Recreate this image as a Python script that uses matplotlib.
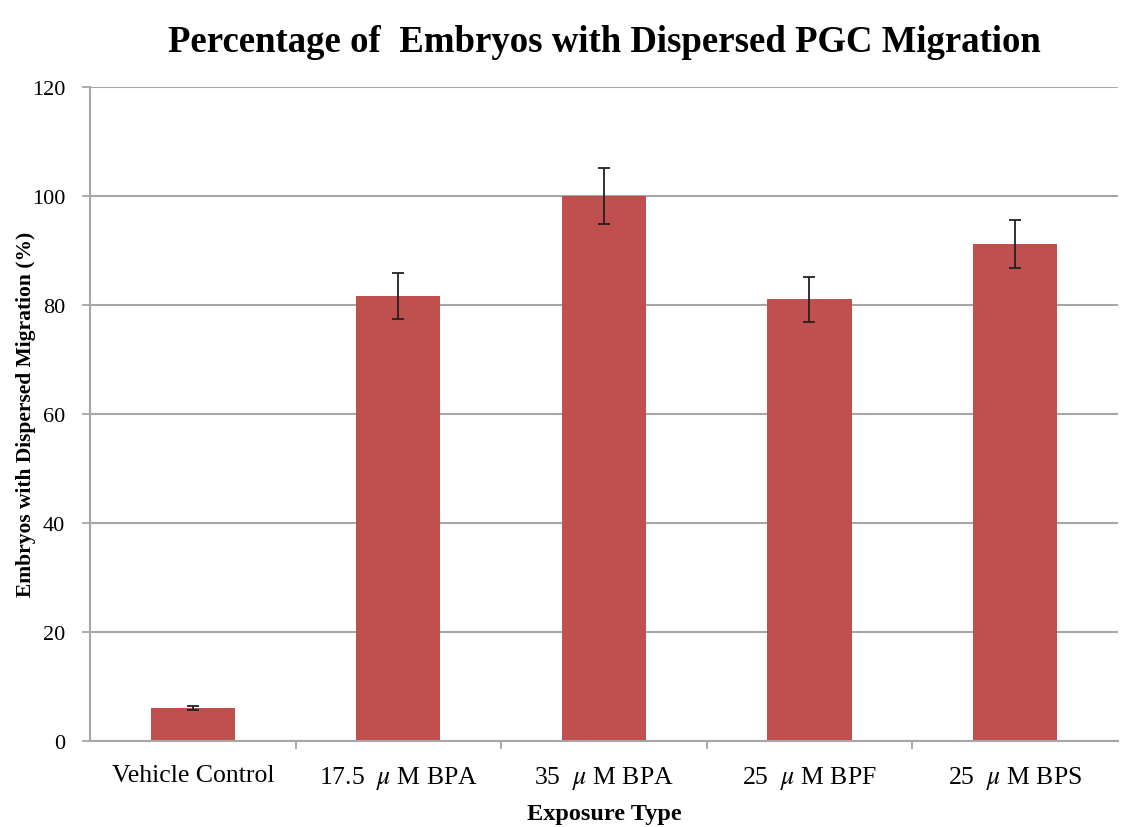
import matplotlib

matplotlib.use("Agg")
import matplotlib.pyplot as plt
import numpy as np

plt.rcParams["font.family"] = ["Liberation Serif", "DejaVu Serif"]
plt.rcParams["mathtext.fontset"] = "stix"

categories = ["Vehicle Control", "17.5  $\\mu$ M BPA", "35  $\\mu$ M BPA",
              "25  $\\mu$ M BPF", "25  $\\mu$ M BPS"]
values = [6.0, 81.6, 100.0, 81.0, 91.2]
errors = [0.4, 4.2, 5.1, 4.1, 4.4]
yticks = [0, 20, 40, 60, 80, 100, 120]

BAR = "#c0504d"
GRID = "#a6a6a6"

fig = plt.figure(figsize=(11.32, 8.28), dpi=100)
ax = fig.add_axes([0.0795, 0.104, 0.908, 0.79])

x = np.arange(len(categories))
ax.bar(x, values, width=0.41, color=BAR, zorder=2)
ax.errorbar(x, values, yerr=errors, fmt="none", ecolor="#222222",
            elinewidth=1.3, capsize=4, capthick=1.3, zorder=3)

ax.set_xlim(-0.5, len(categories) - 0.5)
ax.set_ylim(0, 120)
ax.set_yticks(yticks)
ax.yaxis.grid(True, color=GRID, linewidth=1.5, zorder=0)
ax.set_axisbelow(True)

ax.set_xticks(x)
ax.set_xticklabels(categories, fontsize=18.5)
ax.tick_params(axis="x", length=0, pad=17)
ax.set_xticks(np.arange(0.5, len(categories) - 0.5, 1), minor=True)
ax.tick_params(axis="x", which="minor", length=6, color=GRID, width=1.3)
ax.tick_params(axis="y", labelsize=16, length=6, color=GRID, width=1.3, pad=12)

for side in ("top", "right"):
    ax.spines[side].set_visible(False)
for side in ("left", "bottom"):
    ax.spines[side].set_color(GRID)
    ax.spines[side].set_linewidth(1.5)

ax.set_ylabel("Embryos with Dispersed Migration (%)", fontsize=15.5,
              fontweight="bold")
ax.yaxis.set_label_coords(-0.053, 0.5)
ax.set_xlabel("Exposure Type", fontsize=17.5, fontweight="bold", labelpad=8)
ax.set_title("Percentage of  Embryos with Dispersed PGC Migration",
             fontsize=26.5, fontweight="bold", pad=26)

fig.savefig("out.png", dpi=100)
